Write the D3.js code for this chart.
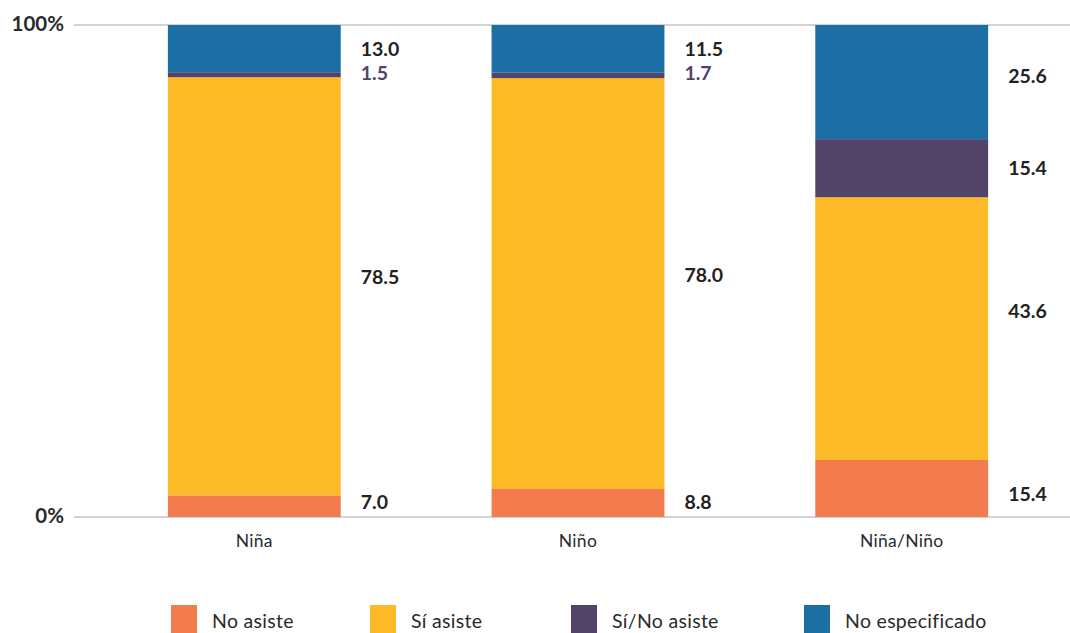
<!DOCTYPE html>
<html><head><meta charset="utf-8">
<script src="https://cdn.jsdelivr.net/npm/d3@7"></script>
<style>body{margin:0;background:#fff}svg{display:block}text{font-variant-ligatures:none}</style>
</head><body>
<svg id="c" width="1070" height="633"></svg>
<script>
const categories = ["Niña", "Niño", "Niña/Niño"];
const seriesNames = ["No asiste", "Sí asiste", "Sí/No asiste", "No especificado"];
// bar heights as drawn in the reference (percent of bar)
const noAsiste       = [4.4, 5.7, 11.6];
const siAsiste       = [85.0, 83.5, 53.4];
const siNoAsiste     = [1.0, 1.1, 11.8];
const noEspecificado = [9.6, 9.7, 23.2];
// printed labels
const labNoAsiste       = ["7.0", "8.8", "15.4"];
const labSiAsiste       = ["78.5", "78.0", "43.6"];
const labSiNoAsiste     = ["1.5", "1.7", "15.4"];
const labNoEspecificado = ["13.0", "11.5", "25.6"];
const yTicks = [0, 100];
const colors = ["#F37B4E", "#FBBA26", "#524368", "#1C6FA4"];

(function () {
const series = [noAsiste, siAsiste, siNoAsiste, noEspecificado];
const labels = [labNoAsiste, labSiAsiste, labSiNoAsiste, labNoEspecificado];
const rows = categories.map((c, i) => {
  const o = {cat: c};
  seriesNames.forEach((s, k) => o[s] = series[k][i]);
  return o;
});
const stacked = d3.stack().keys(seriesNames)(rows);

const svg = d3.select("#c");
const mLeft = 74, mRight = 1070, mTop = 25, mBottom = 517;
const x = d3.scaleBand().domain(categories).range([74, 1082]).paddingInner(0.466).paddingOuter(0.29);
const y = d3.scaleLinear().domain([0, 100]).range([mBottom, mTop]);
const font = "Lato, 'Open Sans', sans-serif";

// axis lines
svg.selectAll("line.g").data(yTicks).join("line")
  .attr("x1", mLeft).attr("x2", mRight)
  .attr("y1", d => y(d)).attr("y2", d => y(d))
  .attr("stroke", "#c4c4c4").attr("stroke-width", 1.5);
svg.selectAll("text.yt").data(yTicks).join("text")
  .attr("x", 64).attr("y", d => y(d) + 1)
  .attr("text-anchor", "end").attr("dominant-baseline", "middle")
  .attr("font-family", font).attr("font-weight", 700).attr("font-size", 20.5)
  .attr("fill", "#2a2a2a").text(d => d + "%");

// bars
stacked.forEach((layer, k) => {
  svg.append("g").selectAll("rect").data(layer).join("rect")
    .attr("x", d => x(d.data.cat))
    .attr("width", x.bandwidth())
    .attr("y", d => y(d[1]))
    .attr("height", d => y(d[0]) - y(d[1]))
    .attr("fill", colors[k]);
});

// value labels
stacked.forEach((layer, k) => {
  svg.append("g").selectAll("text").data(layer).join("text")
    .attr("x", d => x(d.data.cat) + x.bandwidth() + 20)
    .attr("y", (d, i) => {
      let m = (y(d[0]) + y(d[1])) / 2;
      if (k === 0) m = Math.min(m, 502) - (i === 2 ? -6 : 0);
      if (k === 1) m += (i === 2 ? -18 : -9);
      if (k === 3 && i === 2) m -= 6;
      if (k === 2 && i < 2) m -= 2;
      return m + 2;
    })
    .attr("dominant-baseline", "middle")
    .attr("font-family", font).attr("font-weight", 700).attr("font-size", 19.5)
    .attr("fill", (d, i) => (k === 2 && i < 2) ? "#524368" : "#222")
    .text((d, i) => labels[k][i]);
});

// category labels
svg.selectAll("text.cat").data(categories).join("text")
  .attr("x", d => x(d) + x.bandwidth() / 2).attr("y", 543)
  .attr("text-anchor", "middle").attr("dominant-baseline", "middle")
  .attr("font-family", font).attr("font-size", 17.5).attr("fill", "#2a2a2a")
  .attr("letter-spacing", 0.3)
  .text(d => d);

// legend
const legX = [171, 370, 571, 804];
const lg = svg.append("g").selectAll("g").data(seriesNames).join("g")
  .attr("transform", (d, i) => `translate(${legX[i]},605)`);
lg.append("rect").attr("width", 26).attr("height", 28).attr("fill", (d, i) => colors[i]);
lg.append("text").attr("x", 41).attr("y", 18)
  .attr("dominant-baseline", "middle")
  .attr("font-family", font).attr("font-size", 19.5).attr("fill", "#2a2a2a")
  .attr("letter-spacing", 0.3)
  .text(d => d);
})();
</script>
</body></html>
